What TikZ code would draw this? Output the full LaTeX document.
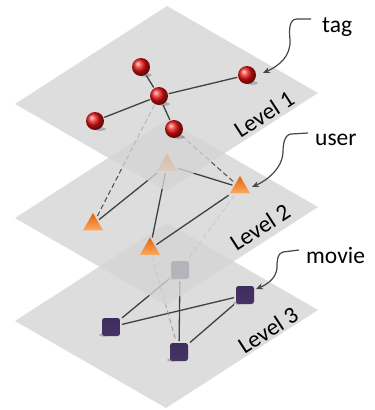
\documentclass[tikz,border=0pt]{standalone}
\usepackage{fontspec}
\setmainfont{Carlito}
\usetikzlibrary{shapes.geometric,arrows.meta}
\pgfdeclarelayer{pthree}
\pgfdeclarelayer{ethree}
\pgfdeclarelayer{nthree}
\pgfdeclarelayer{ptwo}
\pgfdeclarelayer{etwo}
\pgfdeclarelayer{ntwo}
\pgfdeclarelayer{pone}
\pgfdeclarelayer{eone}
\pgfsetlayers{pthree,ethree,nthree,ptwo,etwo,ntwo,pone,eone,main}
\definecolor{planegray}{RGB}{212,212,212}
\definecolor{ballred}{RGB}{232,18,18}
\definecolor{trtop}{RGB}{230,95,10}
\definecolor{trbot}{RGB}{252,170,95}
\definecolor{sqtop}{RGB}{62,44,92}
\definecolor{sqmid}{RGB}{96,76,128}
\definecolor{sqbot}{RGB}{70,52,102}
\definecolor{edgecol}{RGB}{64,64,64}
\definecolor{callcol}{RGB}{70,70,70}
\tikzset{
  plane/.style={fill=planegray, fill opacity=0.8, draw=none},
  tagnode/.style={circle, minimum size=18pt, inner sep=0pt, ball color=ballred, outer sep=1pt},
  usernode/.style={regular polygon, regular polygon sides=3, minimum size=23pt, inner sep=0pt, top color=trtop, bottom color=trbot, draw=none, outer sep=2pt},
  movienode/.style={rectangle, rounded corners=2.5pt, minimum size=18pt, inner sep=0pt, top color=sqtop, middle color=sqmid, bottom color=sqbot, draw=none, outer sep=2pt},
  edgeline/.style={draw=edgecol, line width=1.3pt},
  uplink/.style={draw=edgecol, line width=0.9pt, dash pattern=on 5pt off 3pt},
  faintlink/.style={draw=gray!75, line width=0.9pt, dash pattern=on 5pt off 3pt},
  callout/.style={draw=callcol, line width=1.2pt, -{Stealth[length=7pt,width=6pt]}},
  lab/.style={font=\fontsize{23.5}{27}\selectfont, text=black, inner sep=0pt},
  levellab/.style={font=\fontsize{23.5}{27}\selectfont, text=black, inner sep=0pt, rotate=33},
  shadowblob/.style={fill=black, fill opacity=0.22}
}
\begin{document}
\begin{tikzpicture}[x=1pt,y=-1pt]
\useasboundingbox (0,0) rectangle (375,410);

% planes
\begin{pgfonlayer}{pthree}
\path[plane] (167,223) -- (318,310) -- (166,408) -- (15,321) -- cycle;
\end{pgfonlayer}
\begin{pgfonlayer}{ptwo}
\path[plane] (167,120) -- (318,207) -- (166,305) -- (15,218) -- cycle;
\end{pgfonlayer}
\begin{pgfonlayer}{pone}
\path[plane] (167,6) -- (318,93) -- (166,191) -- (15,104) -- cycle;
\end{pgfonlayer}

% level 3 nodes
\begin{pgfonlayer}{nthree}
\foreach \p in {(180,270),(245,295),(111,327),(179,352)}{
  \fill[shadowblob] \p ++(-7,8) ellipse [x radius=5, y radius=1.6];
}
\node[movienode] (S1) at (180,270) {};
\node[movienode] (S2) at (245,295) {};
\node[movienode] (S3) at (111,327) {};
\node[movienode] (S4) at (179,352) {};
\end{pgfonlayer}

% level 2 nodes
\begin{pgfonlayer}{ntwo}
\node[usernode] (T1) at (167,165) {};
\node[usernode] (T2) at (240,187.5) {};
\node[usernode] (T3) at (93,224.5) {};
\node[usernode] (T4) at (150,249) {};
\end{pgfonlayer}

% level 1 nodes
\foreach \p in {(141,67),(159,96),(247,75),(95,121),(174,129)}{
  \begin{pgfonlayer}{eone}
  \fill[shadowblob] \p ++(5,8) ellipse [x radius=6, y radius=1.8];
  \end{pgfonlayer}
}
\node[tagnode] (A) at (141,67) {};
\node[tagnode] (B) at (159,96) {};
\node[tagnode] (C) at (247,75) {};
\node[tagnode] (D) at (95,121) {};
\node[tagnode] (E) at (174,129) {};

% level 3 edges and links from level 2
\begin{pgfonlayer}{ethree}
\draw[edgeline] (S1) -- (S3);
\draw[edgeline] (S1) -- (S4);
\draw[edgeline] (S3) -- (S2);
\draw[edgeline] (S2) -- (S4);
\draw[faintlink] (T4) -- (S4);
\draw[faintlink] (T2) -- (S1);
\end{pgfonlayer}

% level 2 edges and links from level 1
\begin{pgfonlayer}{etwo}
\draw[edgeline] (T1) -- (T3);
\draw[edgeline] (T1) -- (T4);
\draw[edgeline] (T1) -- (T2);
\draw[edgeline] (T2) -- (T4);
\draw[uplink] (B) -- (T3);
\draw[uplink] (E) -- (T2);
\end{pgfonlayer}

% level 1 edges
\begin{pgfonlayer}{eone}
\draw[edgeline] (A) -- (B);
\draw[edgeline] (B) -- (C);
\draw[edgeline] (D) -- (B);
\draw[edgeline] (B) -- (E);
\end{pgfonlayer}

% labels
\node[lab, anchor=base west] (tagl) at (322,32) {tag};
\node[lab, anchor=base west] (userl) at (315,145) {user};
\node[lab, anchor=base west] (moviel) at (306,263) {movie};
\node[levellab] (lv1) at (264,114) {Level 1};
\node[levellab] (lv2) at (260,227) {Level 2};
\node[levellab] (lv3) at (268,330) {Level 3};

% callouts
\coordinate (tagfrom) at (311,19);
\coordinate (tagto) at (263,73);
\coordinate (userfrom) at (308,133);
\coordinate (userto) at (252,187);
\coordinate (moviefrom) at (299,250);
\coordinate (movieto) at (256,289);
\draw[callout] (tagfrom) -- (297,19) .. controls (289,19) and (289,30) .. (290,40) .. controls (291,56) and (279,66) .. (tagto);
\draw[callout] (userfrom) -- (291,134) .. controls (284,135) and (283,145) .. (283,153) .. controls (282,168) and (268,180) .. (userto);
\draw[callout] (moviefrom) -- (283,252) .. controls (277,253) and (277,262) .. (277,268) .. controls (276,279) and (266,285) .. (movieto);
\end{tikzpicture}
\end{document}
